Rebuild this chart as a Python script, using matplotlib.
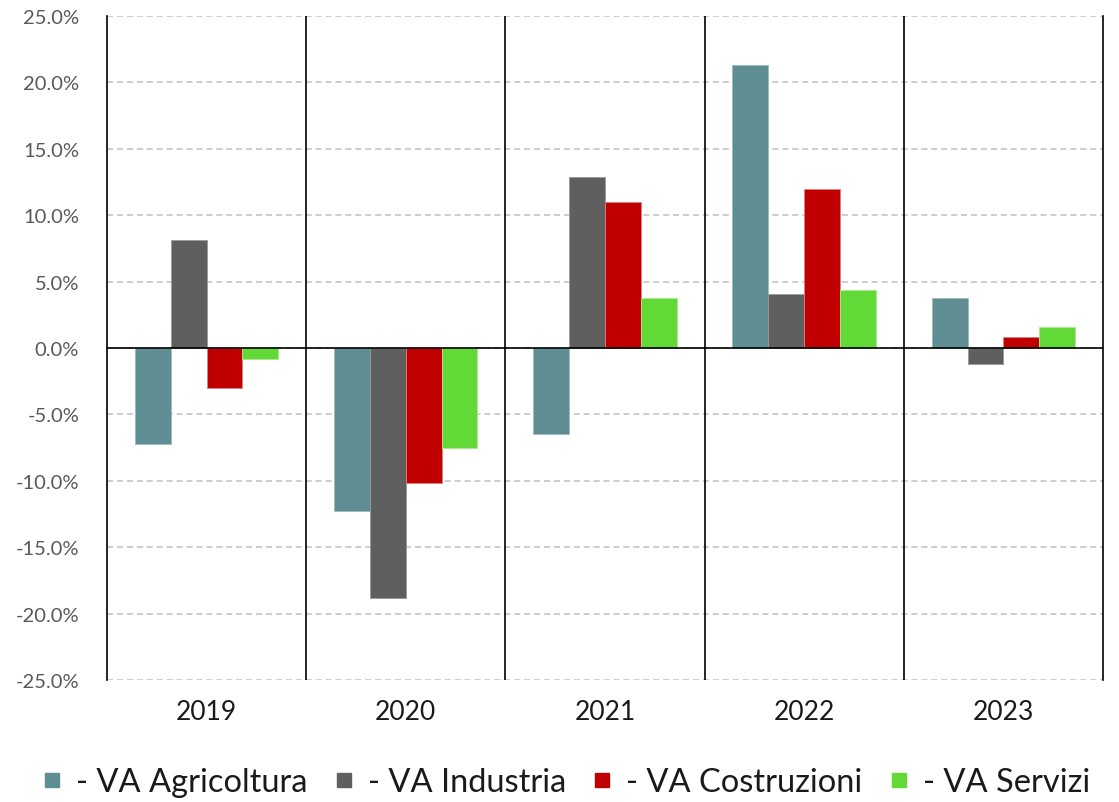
import matplotlib
matplotlib.use("Agg")
import matplotlib.pyplot as plt
import numpy as np
from matplotlib.lines import Line2D
from matplotlib.ticker import FuncFormatter

plt.rcParams['font.family'] = ['Lato', 'DejaVu Sans']

years = ["2019", "2020", "2021", "2022", "2023"]
series_names = ["- VA Agricoltura", "- VA Industria", "- VA Costruzioni", "- VA Servizi"]
agricoltura = [-7.2, -12.3, -6.5, 21.3, 3.8]
industria = [8.1, -18.8, 12.9, 4.1, -1.2]
costruzioni = [-3.0, -10.2, 11.0, 12.0, 0.8]
servizi = [-0.8, -7.5, 3.8, 4.4, 1.6]
colors = ["#5E8E93", "#5F5F5F", "#C00000", "#62D937"]
edge_colors = ["#9BBBBE", "#9A9A9A", "#E08080", "#A8EC8C"]

data = [agricoltura, industria, costruzioni, servizi]

fig = plt.figure(figsize=(11.19, 8.03), dpi=100)
ax = fig.add_axes([0.0956, 0.1519, 0.8901, 0.8269])

n = len(years)
x = np.arange(n) + 0.5
bw = 0.18
offsets = (np.arange(4) - 1.5) * bw

for i, vals in enumerate(data):
    ax.bar(x + offsets[i], vals, width=bw, color=colors[i], edgecolor=edge_colors[i],
           linewidth=0.6, zorder=3)

ax.set_xlim(0, n)
ax.set_ylim(-25, 25)
ax.set_yticks(np.arange(-25, 26, 5))
ax.yaxis.set_major_formatter(FuncFormatter(lambda v, p: f"{v:.1f}%"))
ax.grid(axis='y', color='#C0C0C0', linestyle=(0, (4, 2.5)), linewidth=1.1, zorder=0)
ax.set_xticks(x)
ax.set_xticklabels(years)

for b in range(1, n):
    ax.axvline(b, color='black', linewidth=1.2, zorder=4)
ax.axhline(0, color='black', linewidth=1.2, zorder=4)

for s in ['top', 'bottom']:
    ax.spines[s].set_visible(False)
for s in ['left', 'right']:
    ax.spines[s].set_color('black')
    ax.spines[s].set_linewidth(1.2)

ax.tick_params(axis='y', length=0, pad=20, labelsize=14.5, labelcolor='#595959')
ax.tick_params(axis='x', length=0, pad=14, labelsize=19, labelcolor='#1A1A1A')

handles = [Line2D([0], [0], marker='s', linestyle='none', markersize=10,
                  markerfacecolor=c, markeredgecolor=c) for c in colors]
fig.legend(handles, series_names, loc='center', bbox_to_anchor=(0.507, 0.0245), ncol=4,
           frameon=False, fontsize=23.5, handlelength=0.45, handletextpad=0.5,
           columnspacing=0.9, labelcolor='#1A1A1A')

fig.savefig("out.png", dpi=100)
